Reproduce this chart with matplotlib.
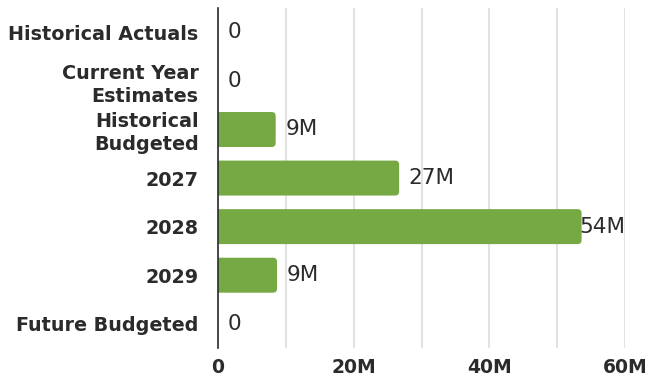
import matplotlib.pyplot as plt
from matplotlib.patches import FancyBboxPatch
from matplotlib.ticker import MultipleLocator, FuncFormatter

categories = ["Historical Actuals", "Current Year\nEstimates", "Historical\nBudgeted",
              "2027", "2028", "2029", "Future Budgeted"]
values = [0, 0, 8.5, 26.7, 53.6, 8.7, 0]          # millions
value_labels = ["0", "0", "9M", "27M", "54M", "9M", "0"]

GREEN = "#76a844"
DARK = "#2b2b2b"

plt.rcParams['font.family'] = ['DejaVu Sans']

fig = plt.figure(figsize=(6.47, 3.85), dpi=100)
ax = fig.add_axes([0.337, 0.096, 0.629, 0.883])

y = list(range(len(categories)))
bars = ax.barh(y, values, height=0.72, color=GREEN, zorder=3)

ax.set_xlim(0, 60)
ax.set_ylim(len(categories) - 0.5, -0.5)

# swap the plain rectangles for slightly rounded ones
for b in bars:
    w = b.get_width()
    if w <= 0:
        continue
    b.set_visible(False)
    ax.add_patch(FancyBboxPatch((b.get_x() - 1, b.get_y()), w + 1, b.get_height(),
                                boxstyle="round,pad=0,rounding_size=0.6",
                                mutation_aspect=0.14, facecolor=GREEN,
                                edgecolor='none', zorder=3, clip_on=True))

ax.set_yticks(y)
ax.set_yticklabels(categories, fontsize=13.8, fontweight='bold', color=DARK,
                   linespacing=1.25)

ax.xaxis.set_major_locator(MultipleLocator(20))
ax.xaxis.set_minor_locator(MultipleLocator(10))
ax.xaxis.set_major_formatter(FuncFormatter(lambda v, p: "0" if v == 0 else f"{int(v)}M"))
for lab in ax.get_xticklabels():
    lab.set_fontweight('bold')
ax.tick_params(axis='x', which='both', length=0, labelsize=13.5, colors=DARK, pad=7)
ax.tick_params(axis='y', length=0, pad=14)
ax.grid(axis='x', which='both', color='#dddddd', linewidth=1.2, zorder=0)

for s in ['top', 'right', 'bottom']:
    ax.spines[s].set_visible(False)
ax.spines['left'].set_color(DARK)
ax.spines['left'].set_linewidth(1.2)
ax.spines['left'].set_zorder(4)

for yi, v, lab in zip(y, values, value_labels):
    if v > 50:
        ax.text(60, yi, lab, ha='right', va='center', fontsize=15.5, color=DARK, zorder=5)
    else:
        ax.annotate(lab, (v, yi), xytext=(7, 0), textcoords='offset points',
                    ha='left', va='center', fontsize=15.5, color=DARK, zorder=5)

fig.savefig("out.png", dpi=100)
